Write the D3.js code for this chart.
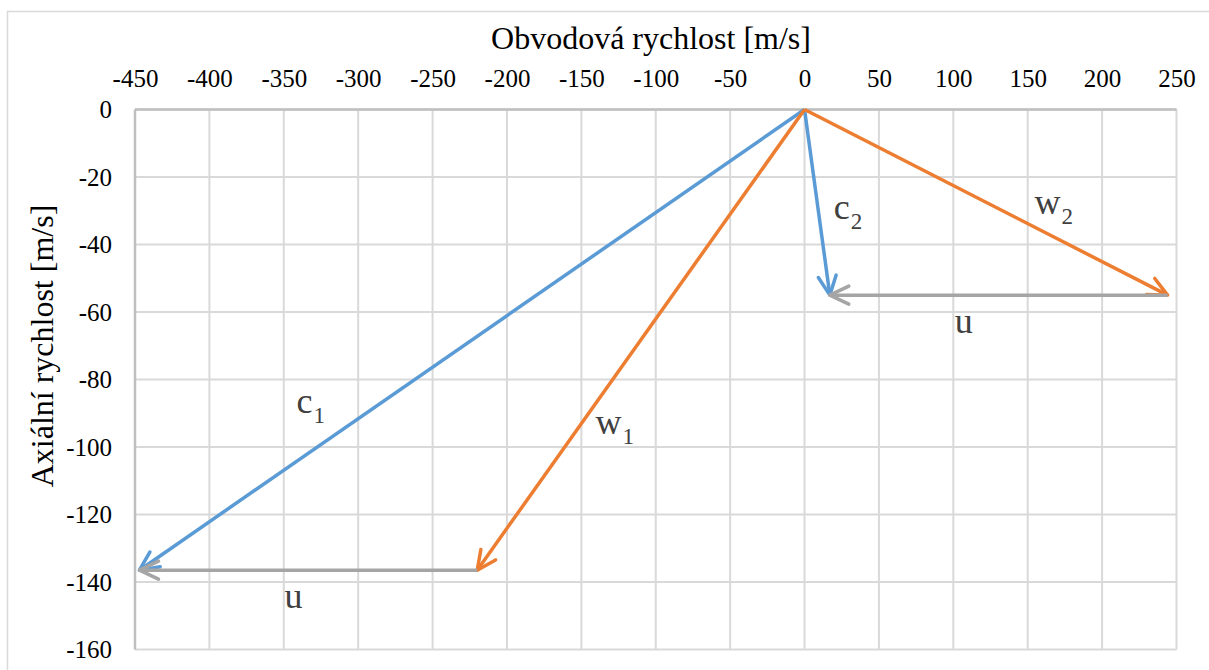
<!DOCTYPE html>
<html>
<head>
<meta charset="utf-8">
<script src="https://cdn.jsdelivr.net/npm/d3@7"></script>
<style>
  html, body { margin: 0; padding: 0; background: #ffffff; }
  svg { display: block; }
  svg text { font-family: "Liberation Serif", "Times New Roman", serif; }
</style>
</head>
<body>
<svg id="chart" width="1209" height="670"></svg>
<script>
// Velocity triangles of the stage: inlet (1) and outlet (2)
const xTicks = [-450, -400, -350, -300, -250, -200, -150, -100, -50, 0, 50, 100, 150, 200, 250];
const yTicks = [0, -20, -40, -60, -80, -100, -120, -140, -160];

// Vector endpoints [start, end] as [obvodová, axiální] in m/s
const c1 = [[0, 0], [-447, -136.5]];
const w1 = [[0, 0], [-220, -136.5]];
const u1 = [[-220, -136.5], [-447, -136.5]];
const c2 = [[0, 0], [17, -55]];
const w2 = [[0, 0], [244, -55]];
const u2 = [[244, -55], [17, -55]];

const vectorNames = ["c1", "w1", "u1", "c2", "w2", "u2"];
const vectorKinds = ["c", "w", "u", "c", "w", "u"];

const svg = d3.select("#chart");

const colors = { c: "#5b9bd5", w: "#ed7d31", u: "#a5a5a5" };

const x = d3.scaleLinear().domain([-450, 250]).range([135, 1176.5]);
const y = d3.scaleLinear().domain([0, -160]).range([109.5, 649.5]);

// outer chart frame
svg.append("rect")
  .attr("x", 7.5).attr("y", 11.5)
  .attr("width", 1300).attr("height", 700)
  .attr("fill", "#ffffff")
  .attr("stroke", "#d9d9d9").attr("stroke-width", 1.5);

// grid
const grid = svg.append("g");
grid.selectAll("line.v").data(xTicks).join("line")
  .attr("x1", d => x(d)).attr("x2", d => x(d))
  .attr("y1", y(0)).attr("y2", y(-160))
  .attr("stroke", "#d9d9d9").attr("stroke-width", 2);
grid.selectAll("line.h").data(yTicks).join("line")
  .attr("x1", x(-450)).attr("x2", x(250))
  .attr("y1", d => y(d)).attr("y2", d => y(d))
  .attr("stroke", "#d9d9d9").attr("stroke-width", 2);

// axis lines
svg.append("line")
  .attr("x1", x(-450)).attr("x2", x(250)).attr("y1", y(0)).attr("y2", y(0))
  .attr("stroke", "#bfbfbf").attr("stroke-width", 2.5);
svg.append("line")
  .attr("x1", x(-450)).attr("x2", x(-450)).attr("y1", y(0)).attr("y2", y(-160))
  .attr("stroke", "#bfbfbf").attr("stroke-width", 2.5);

const fontFamily = "'Liberation Serif', 'Times New Roman', serif";
const plain = d => String(d);

// tick labels
const xAxis = svg.append("g")
  .attr("transform", `translate(0,${y(0)})`)
  .call(d3.axisTop(x).tickValues(xTicks).tickSize(0).tickPadding(22.5).tickFormat(plain));
const yAxis = svg.append("g")
  .attr("transform", `translate(${x(-450)},0)`)
  .call(d3.axisLeft(y).tickValues(yTicks).tickSize(0).tickPadding(23).tickFormat(plain));
[xAxis, yAxis].forEach(a => {
  a.attr("font-family", fontFamily).attr("font-size", 25);
  a.select(".domain").remove();
  a.selectAll("text")
    .attr("font-family", fontFamily)
    .attr("font-size", 25)
    .attr("fill", "#000000");
});

// axis titles
svg.append("text")
  .attr("x", 651).attr("y", 49)
  .attr("text-anchor", "middle")
  .attr("font-family", fontFamily).attr("font-size", 32)
  .attr("fill", "#000000")
  .text("Obvodová rychlost [m/s]");
svg.append("text")
  .attr("transform", "translate(53,346) rotate(-90)")
  .attr("text-anchor", "middle")
  .attr("font-family", fontFamily).attr("font-size", 32)
  .attr("fill", "#000000")
  .text("Axiální rychlost [m/s]");

// open arrow heads, one per colour
const defs = svg.append("defs");
Object.entries(colors).forEach(([k, col]) => {
  defs.append("marker")
    .attr("id", "arrow-" + k)
    .attr("markerUnits", "userSpaceOnUse")
    .attr("viewBox", "-24 -14 28 28")
    .attr("refX", 0).attr("refY", 0)
    .attr("markerWidth", 28).attr("markerHeight", 28)
    .attr("orient", "auto")
    .append("path")
    .attr("d", "M-19,-9 L0,0 L-19,9")
    .attr("fill", "none")
    .attr("stroke", col)
    .attr("stroke-width", 3.5)
    .attr("stroke-linecap", "round")
    .attr("stroke-linejoin", "round");
});

const vectors = [c1, w1, u1, c2, w2, u2];
const order = [0, 3, 1, 4, 2, 5]; // blue, then orange, then grey on top
const line = d3.line().x(d => x(d[0])).y(d => y(d[1]));
svg.append("g").selectAll("path")
  .data(order.map(i => ({ pts: vectors[i], kind: vectorKinds[i] })))
  .join("path")
  .attr("d", d => line(d.pts))
  .attr("fill", "none")
  .attr("stroke", d => colors[d.kind])
  .attr("stroke-width", 3.5)
  .attr("stroke-linecap", "butt")
  .attr("marker-end", d => `url(#arrow-${d.kind})`);

// vector labels (letter + subscript), anchored in axis units
const labelAnchors = {
  c1: [-341.4, -89.8],
  w1: [-140.5, -96.1],
  u1: [-349.5, -147.6],
  c2: [19.7, -32.4],
  w2: [154.5, -30.9],
  u2: [101, -66.2]
};
const labels = svg.append("g")
  .attr("font-family", fontFamily)
  .attr("fill", "#404040");
vectorNames.forEach((name, i) => {
  const [ax, ay] = labelAnchors[name];
  const t = labels.append("text")
    .attr("x", x(ax)).attr("y", y(ay))
    .attr("font-size", 36);
  t.append("tspan").text(vectorKinds[i]);
  if (vectorKinds[i] !== "u") {
    t.append("tspan")
      .attr("font-size", 23)
      .attr("dx", 1)
      .attr("dy", 10)
      .text(name.slice(1));
  }
});
</script>
</body>
</html>
